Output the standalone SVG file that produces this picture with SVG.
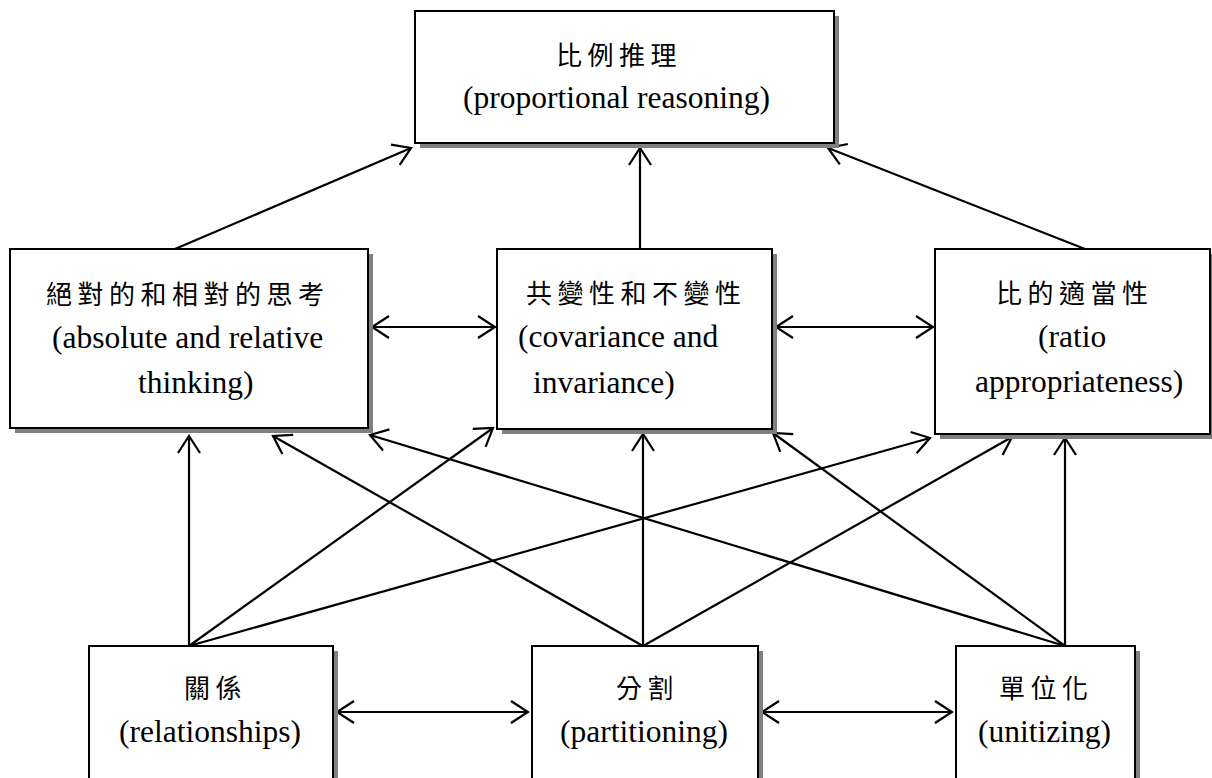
<svg xmlns="http://www.w3.org/2000/svg" width="1212" height="778" viewBox="0 0 1212 778">
<defs>
<marker id="ah" viewBox="-20 -12 22 24" refX="0" refY="0" markerWidth="22" markerHeight="24" markerUnits="userSpaceOnUse" orient="auto-start-reverse">
<path d="M-17,-11 L0,0 L-17,11" fill="none" stroke="#000" stroke-width="2.2"/>
</marker>
</defs>
<style>
.shadow{fill:#808080}
.box{fill:#fff;stroke:#000;stroke-width:2}
.en{font-family:'Liberation Serif','Times New Roman',Times,serif;font-size:31.5px;fill:#000}
.zh{font-family:'Noto Sans CJK TC','Noto Sans CJK JP',sans-serif;font-size:26px;letter-spacing:5.5px;fill:#000}
.c{fill:none;stroke:#000;stroke-width:2.2}
.a{marker-end:url(#ah)}
.d{marker-start:url(#ah);marker-end:url(#ah)}
</style>
<rect width="1212" height="778" fill="#fff"/>
<g id="connectors">
<line class="c a" x1="175" y1="249" x2="411" y2="148"/>
<line class="c a" x1="640" y1="249" x2="640" y2="148"/>
<line class="c a" x1="1085" y1="249" x2="828" y2="148"/>
<line class="c d" x1="372" y1="327" x2="495" y2="327"/>
<line class="c d" x1="776" y1="327" x2="933" y2="327"/>
<line class="c d" x1="337" y1="712" x2="528" y2="712"/>
<line class="c d" x1="762" y1="712" x2="952" y2="712"/>
<line class="c a" x1="189" y1="646" x2="189" y2="436"/>
<line class="c a" x1="189" y1="646" x2="493" y2="428"/>
<line class="c a" x1="189" y1="646" x2="930" y2="438"/>
<line class="c a" x1="643" y1="646" x2="273" y2="436"/>
<line class="c a" x1="643" y1="646" x2="643" y2="434"/>
<line class="c a" x1="643" y1="646" x2="1012" y2="437"/>
<line class="c a" x1="1065" y1="646" x2="370" y2="435"/>
<line class="c a" x1="1065" y1="646" x2="773" y2="433"/>
<line class="c a" x1="1065" y1="646" x2="1065" y2="438"/>
</g>
<g id="proportional">
<rect class="shadow" x="420" y="16" width="419" height="132"/>
<rect class="box" x="415" y="11" width="419" height="132"/>
<text class="zh" x="556" y="65">比例推理</text>
<text class="en" font-family="Liberation Serif" x="463" y="108">(proportional reasoning)</text>
</g>
<g id="absolute">
<rect class="shadow" x="15" y="254" width="358" height="179"/>
<rect class="box" x="10" y="249" width="358" height="179"/>
<text class="zh" x="46" y="304">絕對的和相對的思考</text>
<text class="en" font-family="Liberation Serif" x="52" y="348">(absolute and relative</text>
<text class="en" font-family="Liberation Serif" x="138" y="393">thinking)</text>
</g>
<g id="covariance">
<rect class="shadow" x="502" y="254" width="275" height="180"/>
<rect class="box" x="497" y="249" width="275" height="180"/>
<text class="zh" x="526" y="303">共變性和不變性</text>
<text class="en" font-family="Liberation Serif" x="518" y="347">(covariance and</text>
<text class="en" font-family="Liberation Serif" x="533" y="393">invariance)</text>
</g>
<g id="ratio">
<rect class="shadow" x="940" y="254" width="275" height="185"/>
<rect class="box" x="935" y="249" width="275" height="185"/>
<text class="zh" x="996" y="303">比的適當性</text>
<text class="en" font-family="Liberation Serif" x="1038" y="347">(ratio</text>
<text class="en" font-family="Liberation Serif" x="975" y="392">appropriateness)</text>
</g>
<g id="relationships">
<rect class="shadow" x="94" y="651" width="244" height="140"/>
<rect class="box" x="89" y="646" width="244" height="140"/>
<text class="zh" x="184" y="698">關係</text>
<text class="en" font-family="Liberation Serif" x="119" y="742">(relationships)</text>
</g>
<g id="partitioning">
<rect class="shadow" x="537" y="651" width="226" height="140"/>
<rect class="box" x="532" y="646" width="226" height="140"/>
<text class="zh" x="616" y="698">分割</text>
<text class="en" font-family="Liberation Serif" x="560" y="742">(partitioning)</text>
</g>
<g id="unitizing">
<rect class="shadow" x="961" y="651" width="179" height="140"/>
<rect class="box" x="956" y="646" width="179" height="140"/>
<text class="zh" x="999" y="698">單位化</text>
<text class="en" font-family="Liberation Serif" x="978" y="742">(unitizing)</text>
</g>
</svg>
